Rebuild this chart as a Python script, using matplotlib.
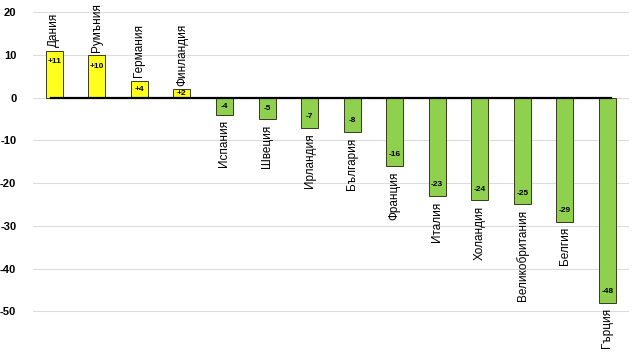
import numpy as np
import matplotlib

matplotlib.use("Agg")
import matplotlib.pyplot as plt

plt.rcParams["font.family"] = ["Liberation Sans", "DejaVu Sans"]

countries = [
    "Дания", "Румъния", "Германия", "Финландия", "Испания", "Швеция",
    "Ирландия", "България", "Франция", "Италия", "Холандия",
    "Великобритания", "Белгия", "Гърция",
]
values = [11, 10, 4, 2, -4, -5, -7, -8, -16, -23, -24, -25, -29, -48]
y_ticks = [20, 10, 0, -10, -20, -30, -40, -50]

YELLOW = "#FFFF1E"
GREEN = "#8FD14F"

fig = plt.figure(figsize=(6.35, 3.59), dpi=100)
ax = fig.add_axes([0.052, 0.008, 0.938, 0.958])

x = np.arange(len(values))
vals = np.array(values, dtype=float)
colors = [YELLOW if v > 0 else GREEN for v in vals]

ax.bar(x, vals, width=0.4, color=colors, edgecolor="#3a3a1a", linewidth=0.7, zorder=3)
ax.axhline(0, xmin=0.03, xmax=0.97, color="black", linewidth=1.6, zorder=4)

for xi, v, name in zip(x, vals, countries):
    label = f"+{int(v)}" if v > 0 else f"{int(v)}"
    # value label sits inside the bar near its outer end
    off = min(abs(v) / 2, 2.6)
    if v > 0:
        ax.text(xi, v - off, label, ha="center", va="center", fontsize=6,
                fontweight="bold", zorder=5)
        ax.text(xi, v + 0.8, name, ha="center", va="bottom", rotation=90,
                fontsize=8.5, zorder=5)
    else:
        ax.text(xi, v + off, label, ha="center", va="center", fontsize=6,
                fontweight="bold", zorder=5)
        ax.text(xi, v - 1.3, name, ha="center", va="top", rotation=90,
                fontsize=8.5, zorder=5)

ax.set_xlim(-0.5, len(values) - 0.5)
ax.set_ylim(-60.5, 20)
ax.set_yticks(y_ticks)
ax.set_yticklabels([str(t) for t in y_ticks], fontsize=8, fontweight="bold")
ax.set_xticks([])
ax.grid(axis="y", color="#dcdcdc", linewidth=0.8, zorder=0)
ax.tick_params(axis="y", length=0, pad=12)
for s in ax.spines.values():
    s.set_visible(False)

fig.savefig("out.png", dpi=100)
